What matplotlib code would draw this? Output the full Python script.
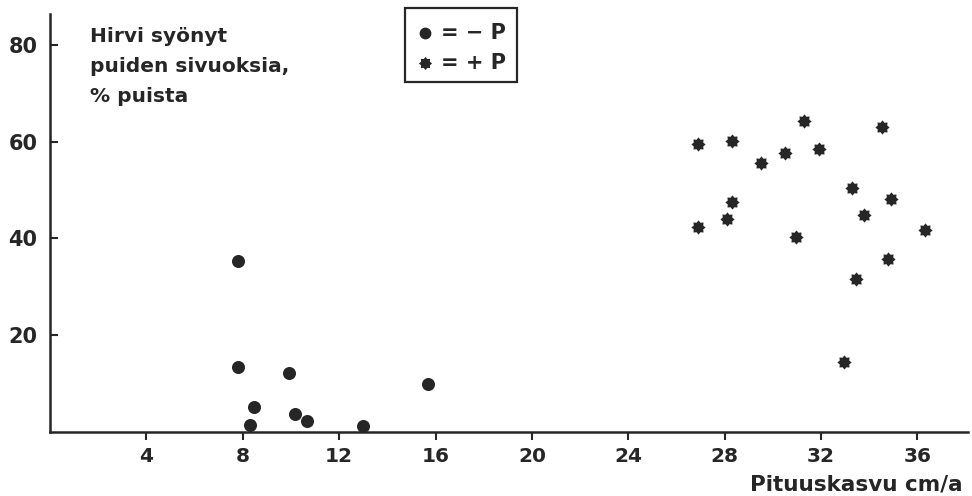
"""Moose browsing vs. leader growth scatter, -P and +P plots."""

import matplotlib

matplotlib.use("Agg")
import matplotlib.pyplot as plt
import numpy as np
from matplotlib.lines import Line2D
from matplotlib.patches import Rectangle

# -P plots (no phosphorus fertilisation)
growth_minus_p = [7.8, 7.8, 8.45, 8.3, 9.9, 10.15, 10.65, 13.0, 15.7]
browsed_minus_p = [35.3, 13.5, 5.2, 1.4, 12.1, 3.7, 2.3, 1.2, 9.9]

# +P plots (phosphorus fertilised)
growth_plus_p = [
    26.9, 28.3, 31.3, 34.55, 29.5, 30.5, 31.9, 33.3, 34.9,
    28.3, 28.1, 26.9, 33.8, 36.3, 30.95, 34.8, 33.45, 32.95,
]
browsed_plus_p = [
    59.5, 60.2, 64.3, 63.1, 55.5, 57.6, 58.5, 50.5, 48.1,
    47.5, 44.1, 42.4, 44.8, 41.7, 40.3, 35.7, 31.7, 14.5,
]

x_ticks = [4, 8, 12, 16, 20, 24, 28, 32, 36]
y_ticks = [20, 40, 60, 80]

legend_labels = ["= − P", "= + P"]

INK = "#262626"
plt.rcParams["font.family"] = ["DejaVu Sans"]
plt.rcParams["font.weight"] = "bold"


def cog_marker(points=8, inner=0.72):
    """Filled star with shallow notches, like a small cog."""
    angles = np.linspace(0, 2 * np.pi, 2 * points, endpoint=False) + np.pi / 2
    radii = np.tile([1.0, inner], points)
    verts = np.column_stack([radii * np.cos(angles), radii * np.sin(angles)])
    return np.vstack([verts, verts[:1]])


STAR = cog_marker()
W, H = 972, 496


def fx(px):
    return px / W


def fy(py):
    return 1 - py / H


fig = plt.figure(figsize=(9.72, 4.96), dpi=100)
ax = fig.add_axes([fx(50), fy(432), fx(968) - fx(50), fy(14) - fy(432)])

ax.scatter(growth_minus_p, browsed_minus_p, s=88, marker="o",
           color=INK, linewidths=0, zorder=3)
ax.scatter(growth_plus_p, browsed_plus_p, s=105, marker=STAR,
           color=INK, linewidths=0, zorder=3)

ax.set_xlim(0, 38.1)
ax.set_ylim(0, 86.4)
ax.set_xticks(x_ticks)
ax.set_yticks(y_ticks)
ax.set_xticklabels([str(v) for v in x_ticks], fontsize=14.5)
ax.set_yticklabels([str(v) for v in y_ticks], fontsize=15)

for side in ("top", "right"):
    ax.spines[side].set_visible(False)
for side in ("left", "bottom"):
    ax.spines[side].set_linewidth(1.8)
    ax.spines[side].set_color(INK)

ax.tick_params(axis="y", direction="in", length=6, width=1.5, pad=9,
               colors=INK)
ax.tick_params(axis="x", direction="out", length=6, width=1.5, pad=5,
               colors=INK)

fig.text(fx(90), fy(27), "Hirvi syönyt\npuiden sivuoksia,\n% puista",
         ha="left", va="top", fontsize=14.5, color=INK, linespacing=1.72)

fig.text(fx(963), fy(485), "Pituuskasvu cm/a", ha="right",
         va="center", fontsize=15.5, color=INK)

# boxed key in the top middle
fig.add_artist(Rectangle((fx(405), fy(82)), fx(517) - fx(405),
                         fy(8) - fy(82), transform=fig.transFigure,
                         fill=False, edgecolor=INK, linewidth=1.6))
key_markers = [("o", 8.5), (STAR, 9.5)]
for row, ((marker, size), label) in enumerate(zip(key_markers, legend_labels)):
    y = fy(33 + 30 * row)
    fig.add_artist(Line2D([fx(425)], [y], transform=fig.transFigure,
                          linestyle="none", marker=marker, markersize=size,
                          color=INK, markeredgewidth=0))
    fig.text(fx(441), y, label, ha="left", va="center",
             fontsize=15, color=INK)

fig.savefig("out.png", dpi=100)
